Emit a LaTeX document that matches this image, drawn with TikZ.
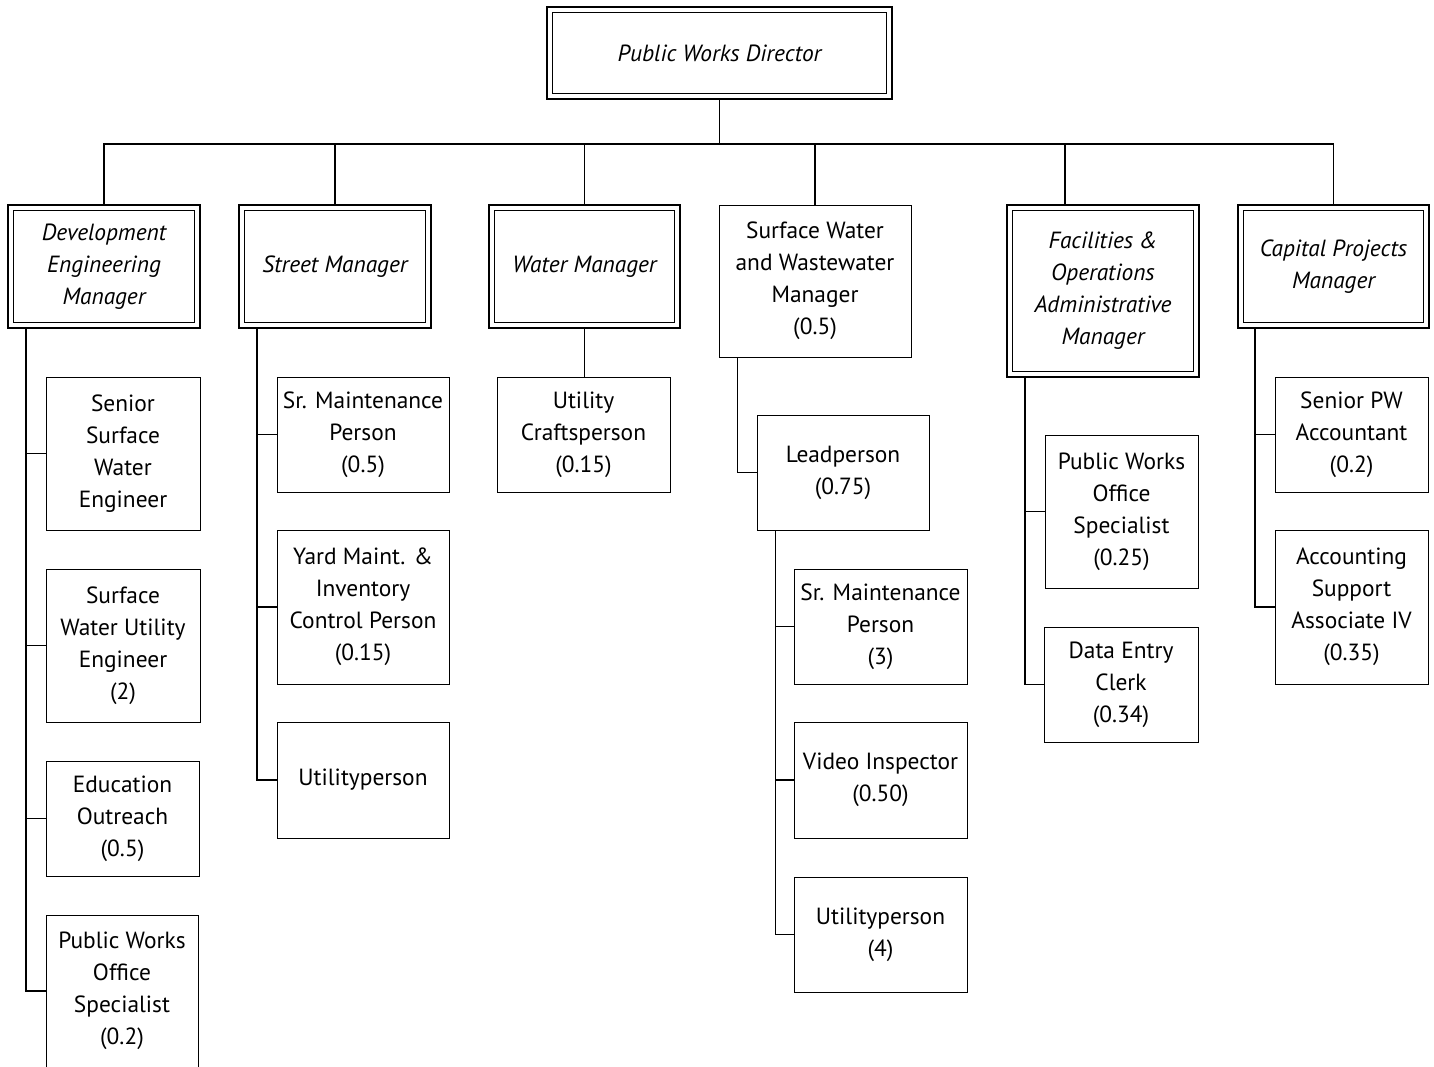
\documentclass[tikz,border=0pt]{standalone}
\usepackage{fontspec}
\setmainfont{PT Sans}

\begin{document}
\begin{tikzpicture}[x=0.5pt,y=-0.5pt,line width=0.9pt,
    box/.style={draw,line width=0.5pt,align=center,inner sep=0pt,
      font=\fontsize{11.7}{16}\selectfont},
    mgr/.style={box,line width=1.1pt,font=\fontsize{11.7}{16}\selectfont\itshape,
      path picture={\draw[line width=0.4pt]
        ([shift={(2.6pt,2.6pt)}]path picture bounding box.south west) rectangle
        ([shift={(-2.6pt,-2.6pt)}]path picture bounding box.north east);}}]
  \clip (0,0) rectangle (1434,1066);

  % director and managers
  \node[mgr,minimum width=172.5pt,minimum height=46pt] (dir) at (719.5,53) {Public Works Director};
  \node[mgr,minimum width=96pt,minimum height=61.5pt] (deveng) at (104,266.5) {Development\\Engineering\\Manager};
  \node[mgr,minimum width=96pt,minimum height=61.5pt] (street) at (335,266.5) {Street Manager};
  \node[mgr,minimum width=95.5pt,minimum height=61.5pt] (water) at (584.5,266.5) {Water Manager};
  \node[box,minimum width=96pt,minimum height=76pt] (swww) at (815,281) {Surface Water\\and Wastewater\\Manager\\(0.5)};
  \node[mgr,minimum width=96pt,minimum height=86pt] (facil) at (1103,291) {Facilities \&\\Operations\\Administrative\\Manager};
  \node[mgr,minimum width=95.5pt,minimum height=61.5pt] (capital) at (1333.5,266.5) {Capital Projects\\Manager};

  \coordinate (bus) at (719.5,145);
  \draw (dir.south) -- (bus);
  \draw (deveng.north) -- ++(0,-60) -| (capital.north);
  \draw (street.north) -- (street.north |- bus);
  \draw (water.north) -- (water.north |- bus);
  \draw (swww.north) -- (swww.north |- bus);
  \draw ([xshift=-19pt]facil.north) -- ([xshift=-19pt]facil.north |- bus);

  % development engineering
  \node[box,minimum width=77pt,minimum height=76.5pt] (sswe) at (123,453.5) {Senior\\Surface\\Water\\Engineer};
  \node[box,minimum width=77pt,minimum height=76.5pt] (swue) at (123,645.5) {Surface\\Water Utility\\Engineer\\(2)};
  \node[box,minimum width=76.5pt,minimum height=57.5pt] (eduout) at (122.5,818.5) {Education\\Outreach\\(0.5)};
  \node[box,minimum width=76pt,minimum height=76pt] (pwos1) at (122,991) {Public Works\\Office\\Specialist\\(0.2)};
  \foreach \c in {sswe,swue,eduout,pwos1}
    \draw ([xshift=9.5pt]deveng.south west) |- (\c.west);

  % street
  \node[box,minimum width=86pt,minimum height=57.5pt] (srmaint1) at (363,434.5) {Sr. Maintenance\\Person\\(0.5)};
  \node[box,minimum width=86pt,minimum height=77pt] (yard) at (363,607) {Yard Maint. \&\\Inventory\\Control Person\\(0.15)};
  \node[box,minimum width=86pt,minimum height=58pt] (util1) at (363,780) {Utilityperson};
  \foreach \c in {srmaint1,yard,util1}
    \draw ([xshift=9.5pt]street.south west) |- (\c.west);

  % water
  \node[box,minimum width=86.5pt,minimum height=57.5pt] (craft) at (583.5,434.5) {Utility\\Craftsperson\\(0.15)};
  \draw (water.south) -- (water.south |- craft.north);

  % surface water and wastewater
  \node[box,minimum width=86pt,minimum height=57.5pt] (lead) at (843,472.5) {Leadperson\\(0.75)};
  \draw ([xshift=9.5pt]swww.south west) |- (lead.west);
  \node[box,minimum width=86.5pt,minimum height=57.5pt] (srmaint2) at (880.5,626.5) {Sr. Maintenance\\Person\\(3)};
  \node[box,minimum width=86.5pt,minimum height=58pt] (video) at (880.5,780) {Video Inspector\\(0.50)};
  \node[box,minimum width=86.5pt,minimum height=57.5pt] (util2) at (880.5,934.5) {Utilityperson\\(4)};
  \foreach \c in {srmaint2,video,util2}
    \draw ([xshift=9.5pt]lead.south west) |- (\c.west);

  % facilities
  \node[box,minimum width=76.5pt,minimum height=76.5pt] (pwos2) at (1121.5,511.5) {Public Works\\Office\\Specialist\\(0.25)};
  \node[box,minimum width=77pt,minimum height=57.5pt] (clerk) at (1121,684.5) {Data Entry\\Clerk\\(0.34)};
  \foreach \c in {pwos2,clerk}
    \draw ([xshift=9.5pt]facil.south west) |- (\c.west);

  % capital projects
  \node[box,minimum width=76.5pt,minimum height=57.5pt] (acct) at (1351.5,434.5) {Senior PW\\Accountant\\(0.2)};
  \node[box,minimum width=76.5pt,minimum height=77pt] (assoc) at (1351.5,607) {Accounting\\Support\\Associate IV\\(0.35)};
  \foreach \c in {acct,assoc}
    \draw ([xshift=9pt]capital.south west) |- (\c.west);
\end{tikzpicture}
\end{document}
